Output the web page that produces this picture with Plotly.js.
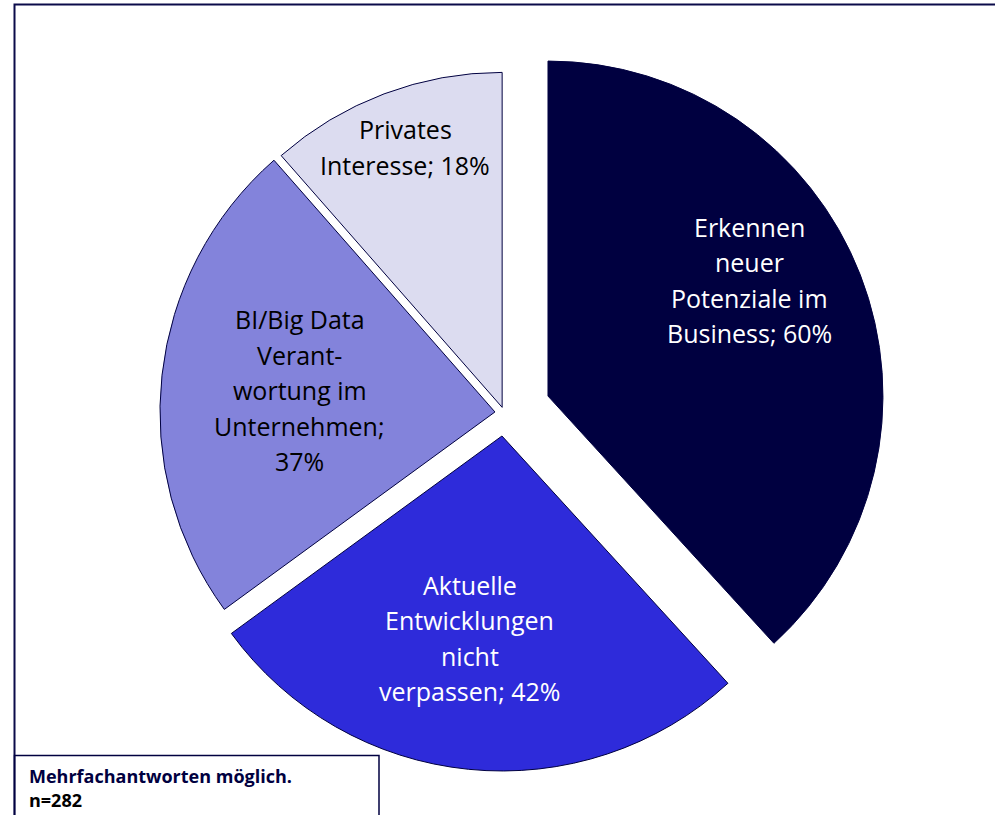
<!DOCTYPE html>
<html>
<head>
<meta charset="utf-8">
<script src="https://cdn.plot.ly/plotly-3.0.1.min.js"></script>
<style>html,body{margin:0;padding:0;background:#fff;}#chart{width:995px;height:815px;}</style>
</head>
<body>
<div id="chart"></div>
<script>
// ---- data ----
const categories = [
  "Erkennen neuer Potenziale im Business",
  "Aktuelle Entwicklungen nicht verpassen",
  "BI/Big Data Verantwortung im Unternehmen",
  "Privates Interesse"
];
const values = [60, 42, 37, 18];
const labelLines = [
  ["Erkennen", "neuer", "Potenziale im", "Business; 60%"],
  ["Aktuelle", "Entwicklungen", "nicht", "verpassen; 42%"],
  ["BI/Big Data", "Verant-", "wortung im", "Unternehmen;", "37%"],
  ["Privates", "Interesse; 18%"]
];
const noteLines = ["Mehrfachantworten möglich.", "n=282"];

// ---- style ----
const colors = ["#000040", "#2E2BDA", "#8383DB", "#DCDCF0"];
const textColors = ["#ffffff", "#ffffff", "#000000", "#000000"];
const pulls = [0.14, 0.069, 0.028, 0.018];
// label placement: angle offset (deg) from slice mid, radius fraction
const labelAngleOffset = [-7.2, 3.0, 0.1, 0.2];
const labelRadius = [0.834, 0.679, 0.614, 0.847];

const W = 995, H = 815;
const dom = {x: [0.1230, 0.8906], y: [0.02466, 0.96184]};
const maxPull = Math.max(...pulls);
const cx = W * (dom.x[0] + dom.x[1]) / 2;
const boxH = H * (dom.y[1] - dom.y[0]);
const cy = H * (1 - dom.y[0]) - boxH / 2;
const r = Math.min(W * (dom.x[1] - dom.x[0]), boxH) / 2 / (1 + maxPull);

const total = values.reduce((a, b) => a + b, 0);
const annotations = [];
const lineGap = 35.5;
let start = 0;
values.forEach((v, i) => {
  const span = v / total * 360;
  const mid = start + span / 2;
  start += span;
  const ang = (mid + labelAngleOffset[i]) * Math.PI / 180;
  const px = cx + labelRadius[i] * r * Math.sin(ang);
  const py = cy - labelRadius[i] * r * Math.cos(ang);
  const lines = labelLines[i];
  lines.forEach((ln, j) => {
    const ly = py + (j - (lines.length - 1) / 2) * lineGap;
    annotations.push({
      xref: "paper", yref: "paper", x: px / W, y: 1 - ly / H,
      xanchor: "center", yanchor: "middle", showarrow: false, text: ln,
      font: {family: "Open Sans, Noto Sans, sans-serif", size: 25, color: textColors[i]}
    });
  });
});

// note box text
noteLines.forEach((t, j) => {
  annotations.push({
    xref: "paper", yref: "paper", x: 27 / W, y: 1 - (776 + j * 24) / H,
    xanchor: "left", yanchor: "middle", showarrow: false, text: "<b>" + t + "</b>",
    font: {family: "Open Sans, Noto Sans, sans-serif", size: 18, color: j === 0 ? "#000040" : "#000000"}
  });
});

const trace = {
  type: "pie",
  values: values,
  labels: categories,
  sort: false,
  direction: "clockwise",
  rotation: 0,
  pull: pulls,
  textinfo: "none",
  hoverinfo: "label+value",
  domain: dom,
  marker: {colors: colors, line: {color: "#000040", width: 1}}
};

const layout = {
  width: W, height: H,
  margin: {l: 0, r: 0, t: 0, b: 0},
  paper_bgcolor: "#ffffff",
  showlegend: false,
  annotations: annotations,
  shapes: [
    {type: "path", xref: "paper", yref: "paper",
     path: "M " + (14.5 / W) + " -0.02 L " + (14.5 / W) + " " + (1 - 4.5 / H) + " L 1.02 " + (1 - 4.5 / H),
     line: {color: "#0b0b4a", width: 2}},
    {type: "rect", xref: "paper", yref: "paper",
     x0: 14.5 / W, x1: 379 / W, y0: -0.02, y1: 1 - 755.5 / H,
     line: {color: "#000040", width: 1.5}, fillcolor: "rgba(0,0,0,0)"}
  ]
};

Plotly.newPlot("chart", [trace], layout, {displayModeBar: false, staticPlot: true});
</script>
</body>
</html>
